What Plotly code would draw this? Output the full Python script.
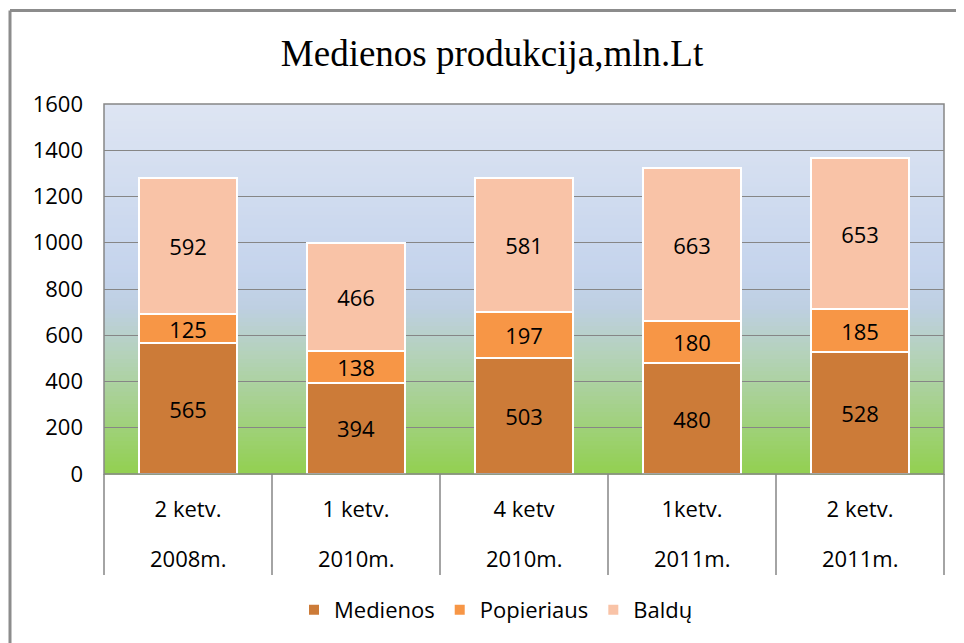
import plotly.graph_objects as go

# ---- data ----
quarters = ["2 ketv.", "1 ketv.", "4 ketv", "1ketv.", "2 ketv."]
years = ["2008m.", "2010m.", "2010m.", "2011m.", "2011m."]
series_names = ["Medienos", "Popieriaus", "Baldų"]
medienos = [565, 394, 503, 480, 528]
popieriaus = [125, 138, 197, 180, 185]
baldu = [592, 466, 581, 663, 653]
colors = ["#CC7B38", "#F79646", "#F9C3A7"]
y_ticks = [0, 200, 400, 600, 800, 1000, 1200, 1400, 1600]

categories = [f"{q} {y} #{i}" for i, (q, y) in enumerate(zip(quarters, years))]

OFF = 8  # page body margin
W, H = 964 - OFF, 643 - OFF
ML, MR, MT = 104 - OFF, 20, 104 - OFF
PW, PH = 840, 370
MB = H - MT - PH

def px_to_paper_x(px):  # px in page coordinates
    return (px - OFF - ML) / PW

def px_to_paper_y(py):
    return (MT + PH - (py - OFF)) / PH

FONT = "Open Sans"
FS = 22

fig = go.Figure()
for name, vals, col in zip(series_names, [medienos, popieriaus, baldu], colors):
    fig.add_trace(go.Bar(
        x=categories, y=vals, name=name,
        marker=dict(color=col, line=dict(color="white", width=2)),
        texttemplate="%{y}", textposition="inside", insidetextanchor="middle",
        textangle=0, constraintext="none",
        textfont=dict(family=FONT, size=FS, color="black"),
        hoverinfo="name+y",
    ))

shapes = []
stops = [(0.0, (222, 229, 243)), (0.45, (197, 212, 236)), (0.55, (190, 207, 226)),
         (0.68, (180, 210, 185)), (1.0, (146, 208, 80))]

def grad(t):
    for (t0, c0), (t1, c1) in zip(stops[:-1], stops[1:]):
        if t0 <= t <= t1:
            f = (t - t0) / (t1 - t0) if t1 > t0 else 0
            return tuple(round(a + (b - a) * f) for a, b in zip(c0, c1))
    return stops[-1][1]

N = 90
for i in range(N):
    t = (i + 0.5) / N
    r, g, b = grad(t)
    shapes.append(dict(type="rect", xref="paper", yref="paper",
                       x0=0, x1=1, y0=1 - (i + 1) / N - 0.002, y1=1 - i / N,
                       fillcolor=f"rgb({r},{g},{b})", line=dict(width=0), layer="below"))

shapes.append(dict(type="rect", xref="paper", yref="paper", x0=0, x1=1, y0=0, y1=1,
                   line=dict(color="#868686", width=1.5), layer="above"))
ybot = px_to_paper_y(575)
n = len(categories)
for i in range(n + 1):
    shapes.append(dict(type="line", xref="paper", yref="paper", x0=i / n, x1=i / n,
                       y0=0, y1=ybot, line=dict(color="#868686", width=1.5)))
fy = px_to_paper_y(10.5)
fx = px_to_paper_x(10)
shapes.append(dict(type="line", xref="paper", yref="paper", x0=fx, x1=px_to_paper_x(970),
                   y0=fy, y1=fy, line=dict(color="#8C8C8C", width=3)))
shapes.append(dict(type="line", xref="paper", yref="paper", x0=fx, x1=fx,
                   y0=fy, y1=px_to_paper_y(650), line=dict(color="#8C8C8C", width=3)))

annotations = []
for c, yr in zip(categories, years):
    annotations.append(dict(x=c, xref="x", y=px_to_paper_y(558), yref="paper",
                            text=yr, showarrow=False, yanchor="middle",
                            font=dict(family=FONT, size=FS, color="black")))

fig.update_layout(
    width=W, height=H,
    margin=dict(l=ML, r=MR, t=MT, b=MB),
    paper_bgcolor="white", plot_bgcolor="rgba(0,0,0,0)",
    barmode="stack", bargap=0.42,
    title=dict(text="Medienos produkcija,mln.Lt", x=(492 - OFF) / W, xref="container",
               y=1 - (53 - OFF) / H, yref="container", xanchor="center", yanchor="middle",
               font=dict(family="Liberation Serif", size=37, color="black")),
    xaxis=dict(tickmode="array", tickvals=categories, ticktext=quarters,
               tickfont=dict(family=FONT, size=FS, color="black"),
               ticks="", showgrid=False, showline=False, ticklabelstandoff=20,
               range=[-0.5, n - 0.5], fixedrange=True),
    yaxis=dict(range=[0, 1600], tickvals=y_ticks, showgrid=True,
               gridcolor="#868686", gridwidth=1, zeroline=False, showline=False,
               ticks="", ticklabelstandoff=20,
               tickfont=dict(family=FONT, size=FS, color="black")),
    legend=dict(orientation="h", x=px_to_paper_x(496), xanchor="center",
                y=px_to_paper_y(610), yanchor="middle", traceorder="normal",
                font=dict(family=FONT, size=FS, color="black")),
    shapes=shapes, annotations=annotations,
    showlegend=True,
)

fig.write_html("out.html")
